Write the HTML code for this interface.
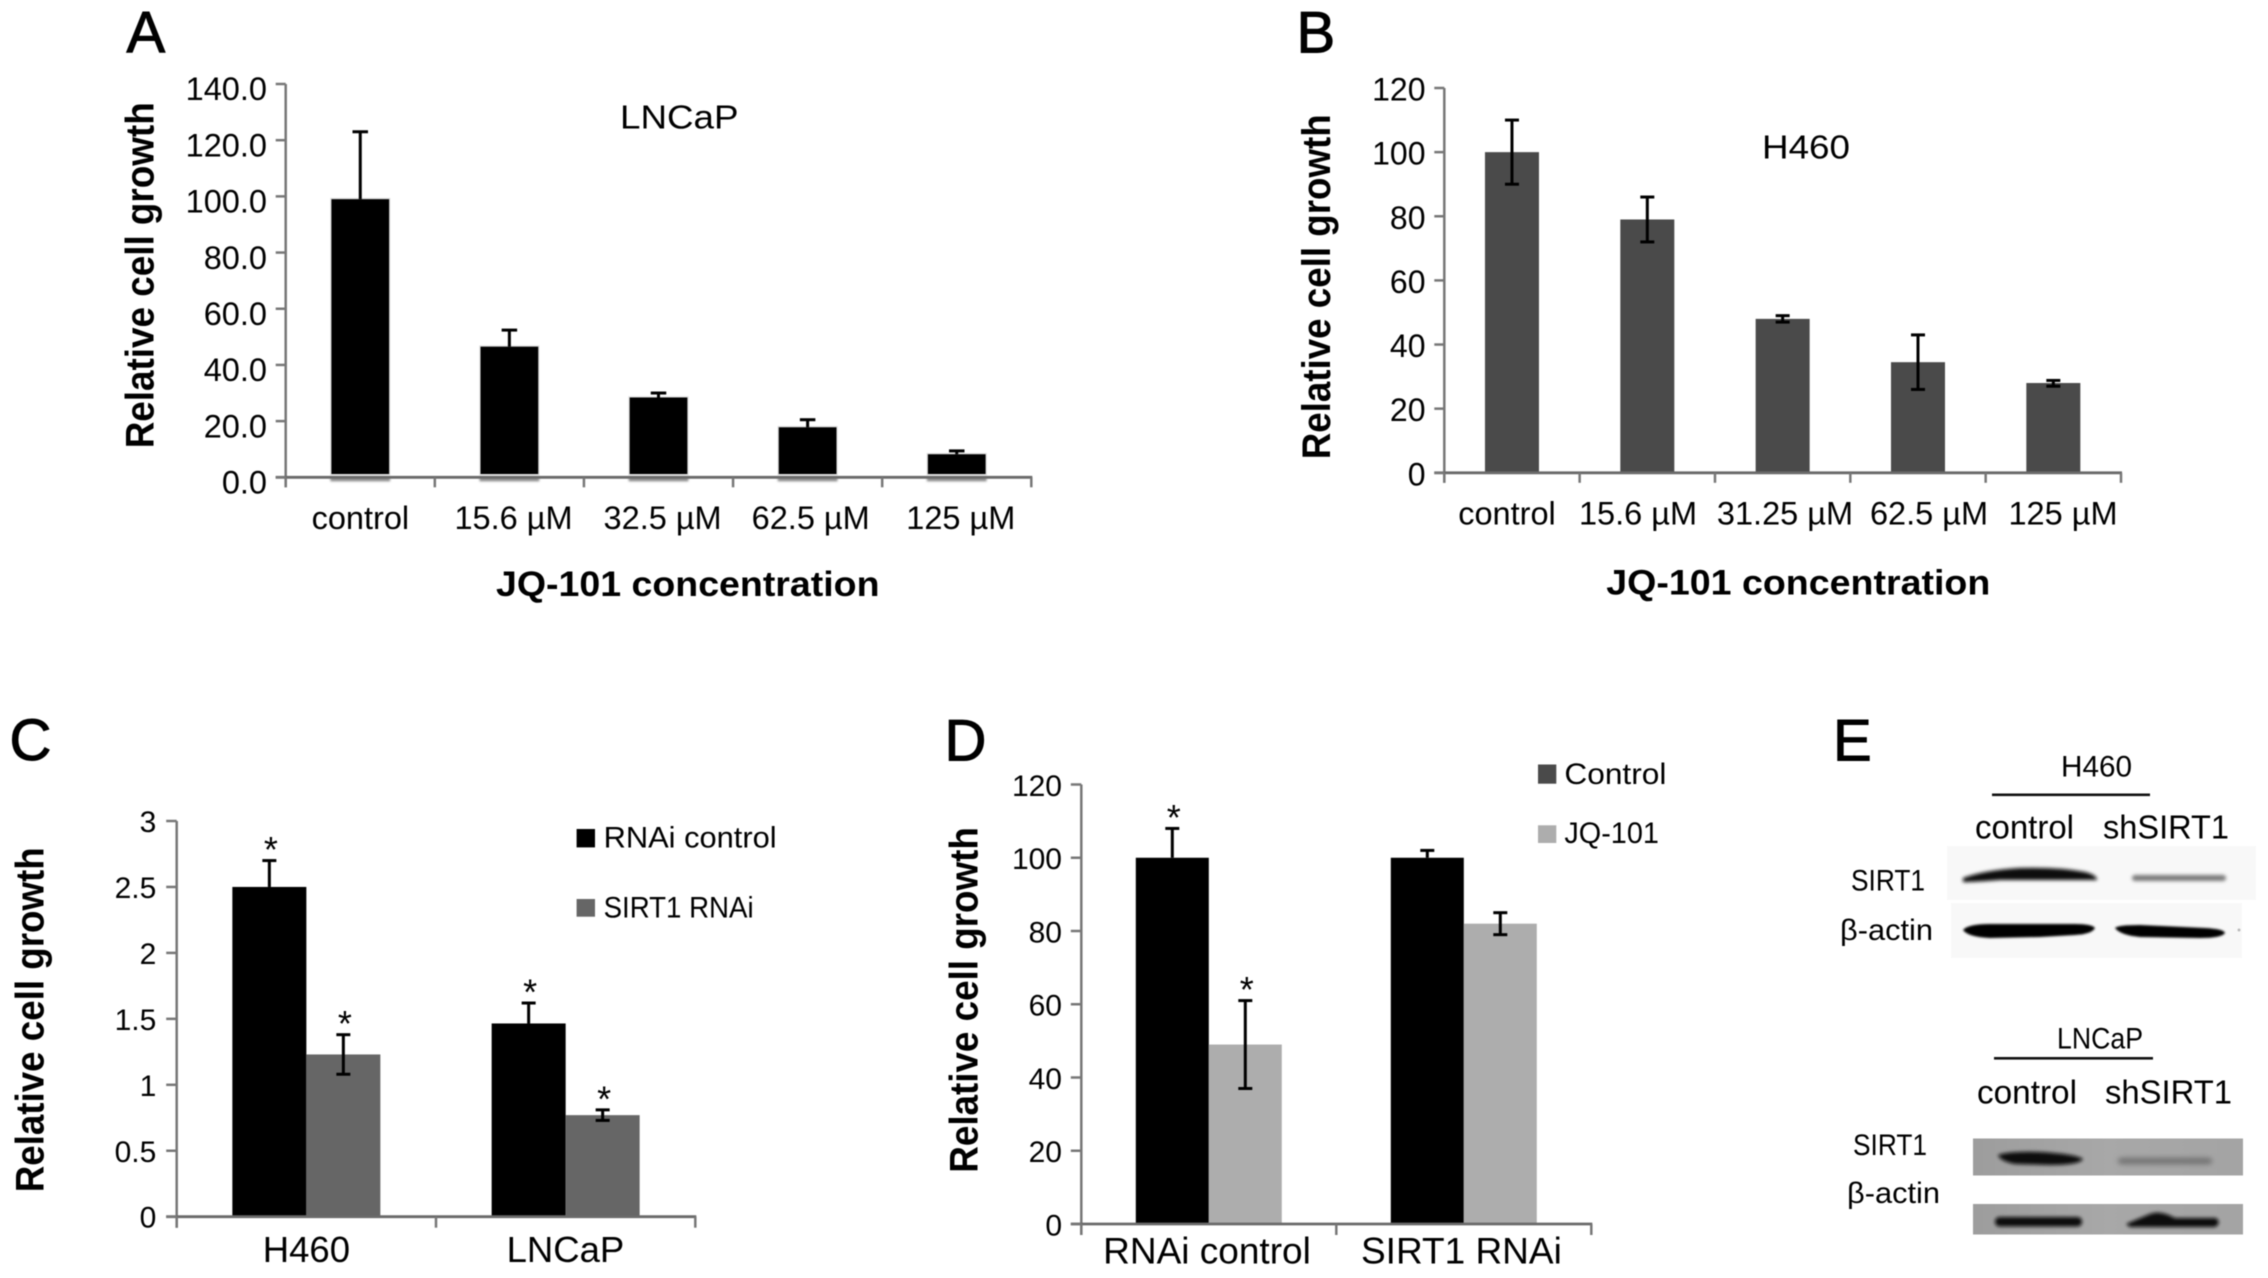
<!DOCTYPE html>
<html lang="en">
<head>
<meta charset="utf-8">
<title>JQ-101 cell growth figure</title>
<style>
html,body{margin:0;padding:0;background:#fff;}
svg{display:block;font-family:"Liberation Sans",sans-serif;filter:blur(0.45px);}
</style>
</head>
<body>
<svg id="figure" xmlns="http://www.w3.org/2000/svg" width="2268" height="1278" viewBox="0 0 2268 1278">
<defs>
<filter id="b1" x="-20%" y="-80%" width="140%" height="260%"><feGaussianBlur stdDeviation="1"/></filter>
<filter id="b2" x="-20%" y="-80%" width="140%" height="260%"><feGaussianBlur stdDeviation="1.8"/></filter>
<filter id="b3" x="-20%" y="-80%" width="140%" height="260%"><feGaussianBlur stdDeviation="2.6"/></filter>
<linearGradient id="blotGrey" x1="0" x2="1" y1="0" y2="0"><stop offset="0" stop-color="#9d9d9d"/><stop offset="0.5" stop-color="#a8a8a8"/><stop offset="1" stop-color="#a4a4a4"/></linearGradient>
</defs>
<rect x="0" y="0" width="2268" height="1278" fill="#fff"/>

<g id="panel-e">
  <rect x="1947" y="846" width="309" height="54" fill="#f8f8f8"/>
  <rect x="1951" y="903" width="291" height="55" fill="#f8f8f8"/>
  <path d="M1963 878 Q1985 870 2020 868 Q2060 867 2085 872 Q2097 875 2097 880 L2060 880 L2000 880 Q1975 882 1963 882Z" fill="#0c0c0c" filter="url(#b2)"/>
  <rect x="2132" y="875" width="94" height="6" rx="3" fill="#7a7a7a" filter="url(#b2)"/>
  <path d="M1963 930 Q1968 924 1990 924 L2075 924 Q2092 924 2095 928 Q2092 934 2075 935 L2040 937 L1990 938 Q1968 937 1963 930Z" fill="#000" filter="url(#b1)"/>
  <path d="M2115 928 Q2118 925 2140 925 L2205 928 Q2224 929 2225 933 Q2222 938 2200 938 L2140 937 Q2120 935 2115 928Z" fill="#000" filter="url(#b1)"/>
  <circle cx="2239" cy="930" r="1.5" fill="#bbb"/>
  <rect x="1973" y="1138.5" width="270" height="37" fill="url(#blotGrey)"/>
  <rect x="1973" y="1204" width="270" height="30.5" fill="url(#blotGrey)"/>
  <path d="M1998 1155 Q2010 1151 2040 1152 Q2075 1154 2083 1159 Q2080 1165 2050 1165 L2015 1164 Q2000 1161 1998 1155Z" fill="#0a0a0a" filter="url(#b2)"/>
  <rect x="2118" y="1158" width="94" height="6" rx="3" fill="#6e6e6e" filter="url(#b3)"/>
  <rect x="1995" y="1217" width="87" height="9.5" rx="4.5" fill="#0c0c0c" filter="url(#b2)"/>
  <path d="M2126 1224 Q2140 1218 2150 1214 T2175 1218 L2216 1218 Q2222 1223 2215 1227 L2130 1227Z" fill="#0c0c0c" filter="url(#b2)"/>
  <rect x="1992" y="793.5" width="158" height="2.6" fill="#111"/>
  <rect x="1994" y="1057" width="159" height="2.6" fill="#111"/>
  <text x="2061" y="776.5" font-size="30" textLength="71" lengthAdjust="spacingAndGlyphs">H460</text>
  <text x="2057" y="1048.5" font-size="30" textLength="86" lengthAdjust="spacingAndGlyphs">LNCaP</text>
  <text x="1975" y="838.5" font-size="33" textLength="99" lengthAdjust="spacingAndGlyphs">control</text>
  <text x="2103" y="838.5" font-size="33" textLength="126" lengthAdjust="spacingAndGlyphs">shSIRT1</text>
  <text x="1977" y="1103.5" font-size="33" textLength="100" lengthAdjust="spacingAndGlyphs">control</text>
  <text x="2105" y="1103.5" font-size="33" textLength="127" lengthAdjust="spacingAndGlyphs">shSIRT1</text>
  <text x="1851" y="890.5" font-size="30" textLength="74" lengthAdjust="spacingAndGlyphs">SIRT1</text>
  <text x="1840" y="940" font-size="30" textLength="93" lengthAdjust="spacingAndGlyphs">β-actin</text>
  <text x="1853" y="1155" font-size="30" textLength="74" lengthAdjust="spacingAndGlyphs">SIRT1</text>
  <text x="1847" y="1203" font-size="30" textLength="93" lengthAdjust="spacingAndGlyphs">β-actin</text>
</g>

<text x="126.5" y="52.5" font-size="58" stroke="#000" stroke-width="1">A</text>
<text x="1296.5" y="52.5" font-size="58" stroke="#000" stroke-width="1">B</text>
<text x="9.5" y="760" font-size="58" stroke="#000" stroke-width="1">C</text>
<text x="944.5" y="760.5" font-size="58" stroke="#000" stroke-width="1">D</text>
<text x="1833" y="760.5" font-size="58" stroke="#000" stroke-width="1">E</text>

<text x="620" y="128.7" font-size="33" textLength="118.5" lengthAdjust="spacingAndGlyphs">LNCaP</text>
<text x="1762" y="158.6" font-size="33" textLength="88" lengthAdjust="spacingAndGlyphs">H460</text>
<text x="496" y="595.8" font-size="35" font-weight="700" textLength="383.5" lengthAdjust="spacingAndGlyphs">JQ-101 concentration</text>
<text x="1606.3" y="594.6" font-size="35" font-weight="700" textLength="384" lengthAdjust="spacingAndGlyphs">JQ-101 concentration</text>
<text transform="translate(153.3,448.3) rotate(-90)" font-size="40" font-weight="700" textLength="346" lengthAdjust="spacingAndGlyphs">Relative cell growth</text>
<text transform="translate(1330,459.3) rotate(-90)" font-size="40" font-weight="700" textLength="345" lengthAdjust="spacingAndGlyphs">Relative cell growth</text>
<text transform="translate(43.3,1192.3) rotate(-90)" font-size="40" font-weight="700" textLength="345" lengthAdjust="spacingAndGlyphs">Relative cell growth</text>
<text transform="translate(977.3,1172.7) rotate(-90)" font-size="40" font-weight="700" textLength="345.5" lengthAdjust="spacingAndGlyphs">Relative cell growth</text>

<rect x="576.6" y="829" width="18.4" height="18.4" fill="#000"/>
<text x="603.6" y="847.4" font-size="30" textLength="173" lengthAdjust="spacingAndGlyphs">RNAi control</text>
<rect x="576.6" y="899" width="18.4" height="17.7" fill="#666"/>
<text x="603.6" y="917.5" font-size="30" textLength="150" lengthAdjust="spacingAndGlyphs">SIRT1 RNAi</text>
<rect x="1538" y="764.5" width="18.3" height="19.2" fill="#4a4a4a"/>
<text x="1564.4" y="784" font-size="30" textLength="102" lengthAdjust="spacingAndGlyphs">Control</text>
<rect x="1538" y="825.3" width="18.3" height="17.7" fill="#adadad"/>
<text x="1564.4" y="843" font-size="30" textLength="94.5" lengthAdjust="spacingAndGlyphs">JQ-101</text>
</svg>

<script>
// Chart A: LNCaP
const aCategories = ['control', '15.6 µM', '32.5 µM', '62.5 µM', '125 µM'];
const aValues = [99, 46.5, 28.4, 17.8, 8.2];
const aErrHigh = [123, 52.4, 30, 20.5, 9.4];
const aErrLow = [99, 46.5, 28.4, 17.8, 8.2];
const aTicks = ['0.0', '20.0', '40.0', '60.0', '80.0', '100.0', '120.0', '140.0'];

// Chart B: H460
const bCategories = ['control', '15.6 µM', '31.25 µM', '62.5 µM', '125 µM'];
const bValues = [100, 79, 48, 34.5, 28];
const bErrHigh = [110, 86, 49, 43, 28.8];
const bErrLow = [90, 72, 47, 26, 27];
const bTicks = ['0', '20', '40', '60', '80', '100', '120'];

// Chart C: RNAi growth
const cCategories = ['H460', 'LNCaP'];
const cControlValues = [2.5, 1.465];
const cControlErrHigh = [2.7, 1.62];
const cControlErrLow = [2.5, 1.465];
const cRnaiValues = [1.23, 0.77];
const cRnaiErrHigh = [1.38, 0.81];
const cRnaiErrLow = [1.08, 0.73];
const cTicks = ['0', '0.5', '1', '1.5', '2', '2.5', '3'];

// Chart D: JQ-101 under RNAi
const dCategories = ['RNAi control', 'SIRT1 RNAi'];
const dControlValues = [100, 100];
const dControlErrHigh = [108, 102];
const dControlErrLow = [100, 100];
const dJqValues = [49, 82];
const dJqErrHigh = [61, 85];
const dJqErrLow = [37, 79];
const dTicks = ['0', '20', '40', '60', '80', '100', '120'];

const svgRoot = document.getElementById('figure');
const SVG_NS = 'http://www.w3.org/2000/svg';

function make(tag, attrs, parent) {
  const node = document.createElementNS(SVG_NS, tag);
  Object.keys(attrs).forEach(function (k) { node.setAttribute(k, attrs[k]); });
  parent.appendChild(node);
  return node;
}

function drawChart(cfg) {
  const group = make('g', {}, svgRoot);
  
  

  const maxTick = Math.max.apply(null, cfg.ticks.map(parseFloat));
  const yScale = function (v) { return cfg.y0 - (v / maxTick) * (cfg.y0 - cfg.yTop); };
  const bandW = (cfg.xRight - cfg.x0) / cfg.categories.length;
  const bandCenter = function (i) { return cfg.x0 + (i + 0.5) * bandW; };
  const nSeries = cfg.series.length;

  cfg.series.forEach(function (s, si) {
    s.values.forEach(function (v, i) {
      const left = bandCenter(i) - (nSeries * cfg.barW) / 2 + si * cfg.barW;
      const top = yScale(v);
      const bottom = cfg.y0 - cfg.barGap;
      if (cfg.halo) {
        const shadow = make('rect', { x: left - 1, y: cfg.y0, width: cfg.barW + 2, height: 4, fill: '#8a8a8a', filter: 'url(#b1)' }, group);
        
        
      }
      const bar = make('rect', { x: left, y: top, width: cfg.barW, height: bottom - top, fill: s.color }, group);
      if (cfg.halo) {
        bar.setAttribute('stroke', '#dcdcdc');
        bar.setAttribute('stroke-width', '2.5');
        bar.setAttribute('paint-order', 'stroke');
      }
      
      

      const cx = left + cfg.barW / 2;
      const yHigh = yScale(s.errHigh[i]);
      const yLow = yScale(s.errLow[i]);
      const whisker = make('line', { x1: cx, x2: cx, y1: yHigh, y2: yLow, stroke: '#000', 'stroke-width': 3 }, group);
      
      
      const capHigh = make('line', { x1: cx - cfg.capW / 2, x2: cx + cfg.capW / 2, y1: yHigh, y2: yHigh, stroke: '#000', 'stroke-width': 3 }, group);
      
      
      const capLow = make('line', { x1: cx - cfg.capW / 2, x2: cx + cfg.capW / 2, y1: yLow, y2: yLow, stroke: s.errLow[i] === v ? 'none' : '#000', 'stroke-width': 3 }, group);
      
      

      if (s.stars && s.stars[i]) {
        const star = make('text', { x: cx + 1.5, y: yHigh + 1.5, 'text-anchor': 'middle', 'font-size': 36 }, group);
        star.textContent = '*';
        
        
      }
    });
  });

  const yAxis = make('line', { x1: cfg.x0, x2: cfg.x0, y1: cfg.yTop, y2: cfg.y0 + cfg.tickLen, stroke: '#777', 'stroke-width': 2.5 }, group);
  
  
  const xAxis = make('line', { x1: cfg.x0 - cfg.yTickLen, x2: cfg.xRight + 1, y1: cfg.y0, y2: cfg.y0, stroke: '#6a6a6a', 'stroke-width': 2.8 }, group);
  
  

  cfg.ticks.forEach(function (t) {
    const y = yScale(parseFloat(t));
    const mark = make('line', { x1: cfg.x0 - cfg.yTickLen, x2: cfg.x0, y1: y, y2: y, stroke: '#777', 'stroke-width': 2.5 }, group);
    
    
    const label = make('text', { x: cfg.yLabelX, y: y + cfg.yLabelDy, 'text-anchor': 'end', 'font-size': cfg.tickFont }, group);
    label.textContent = t;
    
    
  });

  for (let i = 0; i <= cfg.categories.length; i++) {
    const x = cfg.x0 + i * bandW;
    const mark = make('line', { x1: x, x2: x, y1: cfg.y0, y2: cfg.y0 + cfg.tickLen, stroke: '#777', 'stroke-width': 2.5 }, group);
    
    
  }

  cfg.categories.forEach(function (c, i) {
    const nudge = cfg.labelNudge ? cfg.labelNudge[i] : 0;
    const x = cfg.labelStart + i * cfg.labelStep + nudge;
    const label = make('text', { x: x, y: cfg.labelY, 'text-anchor': 'middle', 'font-size': cfg.labelFont }, group);
    label.textContent = c;
    
    
  });
}

drawChart({
  id: 'a', categories: aCategories, ticks: aTicks,
  series: [{ values: aValues, errHigh: aErrHigh, errLow: aErrLow, color: '#000' }],
  x0: 285.7, xRight: 1031.3, y0: 477.3, yTop: 84, barW: 57.7, capW: 15.5, barGap: 3.3, halo: true,
  tickLen: 10, yTickLen: 10, yLabelX: 267, yLabelDy: 16.2, tickFont: 32.5,
  labelStart: 360.4, labelStep: 150.1, labelNudge: [0, 3, 2, 0, 0], labelY: 529, labelFont: 32.5
});
drawChart({
  id: 'b', categories: bCategories, ticks: bTicks,
  series: [{ values: bValues, errHigh: bErrHigh, errLow: bErrLow, color: '#4a4a4a' }],
  x0: 1444.3, xRight: 2121, y0: 472.8, yTop: 88, barW: 54, capW: 14, barGap: 0,
  tickLen: 10, yTickLen: 10, yLabelX: 1425.5, yLabelDy: 12.5, tickFont: 32,
  labelStart: 1507, labelStep: 139, labelNudge: [0, -8, 0, 5, 0], labelY: 524.5, labelFont: 32.5
});
drawChart({
  id: 'c', categories: cCategories, ticks: cTicks,
  series: [
    { values: cControlValues, errHigh: cControlErrHigh, errLow: cControlErrLow, color: '#000', stars: [true, true] },
    { values: cRnaiValues, errHigh: cRnaiErrHigh, errLow: cRnaiErrLow, color: '#666', stars: [true, true] }
  ],
  x0: 176.7, xRight: 695.3, y0: 1216.7, yTop: 821, barW: 74, capW: 14, barGap: 0,
  tickLen: 11, yTickLen: 10.5, yLabelX: 156.3, yLabelDy: 11, tickFont: 30,
  labelStart: 306.4, labelStep: 259, labelY: 1261.8, labelFont: 36.5
});
drawChart({
  id: 'd', categories: dCategories, ticks: dTicks,
  series: [
    { values: dControlValues, errHigh: dControlErrHigh, errLow: dControlErrLow, color: '#000', stars: [true, false] },
    { values: dJqValues, errHigh: dJqErrHigh, errLow: dJqErrLow, color: '#adadad', stars: [true, false] }
  ],
  x0: 1081.3, xRight: 1591.3, y0: 1224, yTop: 784.5, barW: 73, capW: 14, barGap: 0,
  tickLen: 11, yTickLen: 10.5, yLabelX: 1062, yLabelDy: 11.3, tickFont: 30,
  labelStart: 1207, labelStep: 254.4, labelY: 1263.3, labelFont: 37
});
</script>
</body>
</html>
